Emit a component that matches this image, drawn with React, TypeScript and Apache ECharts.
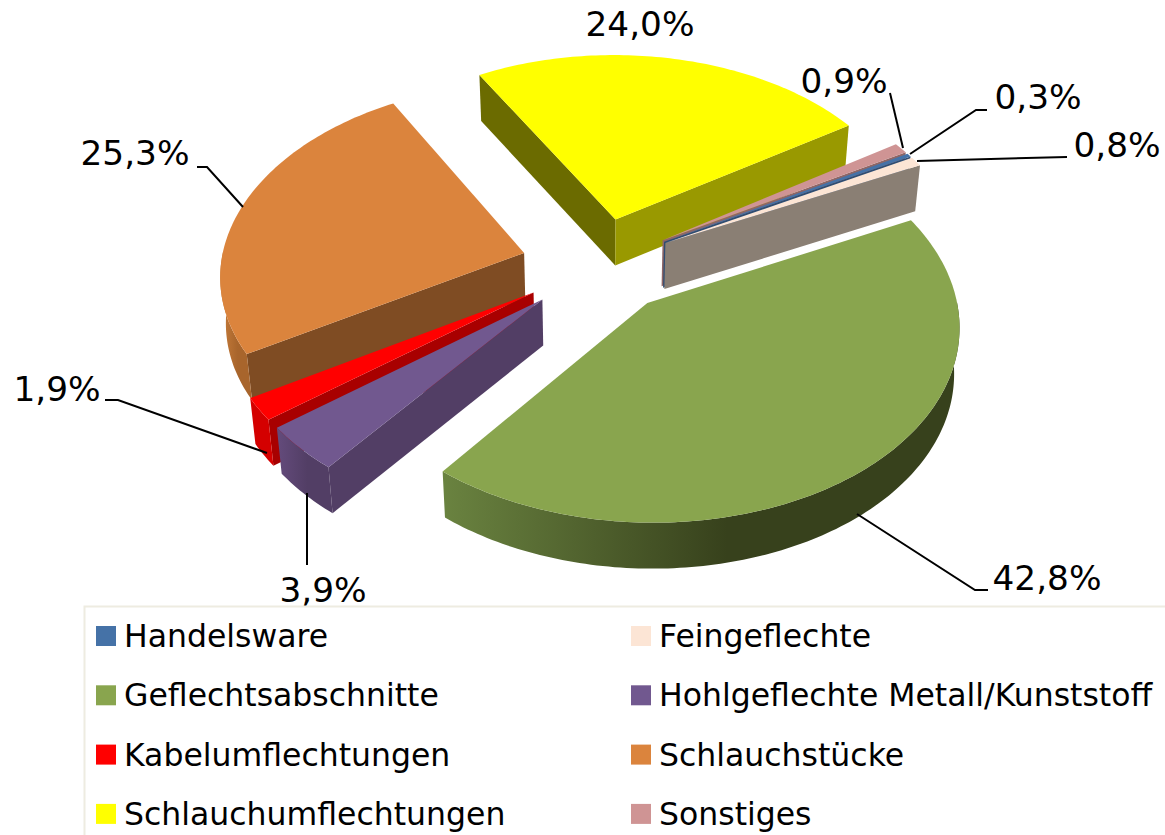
import React, { useEffect, useRef } from "react";
import * as echarts from "echarts";

const categories = ["Handelsware", "Feingeflechte", "Geflechtsabschnitte", "Hohlgeflechte Metall/Kunststoff", "Kabelumflechtungen", "Schlauchstücke", "Schlauchumflechtungen", "Sonstiges"];
const shares = [0.3, 0.8, 42.8, 3.9, 1.9, 25.3, 24.0, 0.9];
const topColors = ["#4572a7", "#fce5d5", "#89a54e", "#71588f", "#ff0000", "#db843d", "#ffff00", "#cf9494"];
const wallStartColors = ["#2f4d72", "#8a7f74", "#5c7034", "#523e65", "#a80000", "#7f4c23", "#6b6b00", "#8f6666"];
const wallEndColors = ["#2f4d72", "#8a7f74", "#5c7034", "#523e65", "#a80000", "#7f4c23", "#999900", "#8f6666"];
const arcColorsA = ["#2f4d72", "#8a7f74", "#6a8340", "#644b7c", "#d40000", "#c87d3b", "#999900", "#8f6666"];
const arcColorsB = ["#2f4d72", "#8a7f74", "#37411c", "#523e65", "#d40000", "#a8652c", "#999900", "#8f6666"];

const leftLegend = [categories[0], categories[2], categories[4], categories[6]];
const rightLegend = [categories[1], categories[3], categories[5], categories[7]];

// label centre x, y per category; leader polyline per category
const labelAt = [[1038, 97], [1117, 145], [1047, 578], [323, 590], [57, 389], [135, 153], [640, 24], [844, 81]];
const leaders = [
  [[987, 110], [976, 110], [910, 154]],
  [[1067, 157], [917, 161]],
  [[857, 514], [975, 590], [988, 590]],
  [[307, 493], [307, 565]],
  [[105, 400], [118, 400], [267, 453]],
  [[197, 167], [207, 167], [243, 207]],
  [],
  [[890, 93], [903, 148]],
];

const CX = 598, CY = 265, R = 296, EXPLODE = 75, K = 0.64, PX = 0.105, PY = 0.1, SX = 1.025, DEPTH = 46, SHRINK = 0.015;
const START = -30;

const rad = (d: number) => (d * Math.PI) / 180;
function project(X: number, Y: number, low: boolean): number[] {
  const x = (SX * X) / (1 - (PX * Y) / R);
  const y = (K * Y) / (1 - (PY * Y) / R);
  return low ? [CX + x * (1 - SHRINK), CY + y + DEPTH] : [CX + x, CY + y];
}

const total = shares.reduce((a, b) => a + b, 0);
let running = START;
const spans = shares.map((v) => {
  const a0 = running;
  running += (v / total) * 360;
  return [a0, running];
});

function makeRenderItem(i: number) {
  return () => {
    const [a0, a1] = spans[i];
    const mid = rad((a0 + a1) / 2);
    const ax = EXPLODE * Math.cos(mid), ay = EXPLODE * Math.sin(mid);
    const rim: number[][] = [];
    const n = Math.max(2, Math.ceil(a1 - a0));
    for (let j = 0; j <= n; j++) {
      const t = rad(a0 + ((a1 - a0) * j) / n);
      rim.push([ax + R * Math.cos(t), ay + R * Math.sin(t), t]);
    }
    const children: any[] = [];
    const radial = (p: number[], fill: string) => ({
      type: "polygon",
      shape: { points: [project(ax, ay, false), project(p[0], p[1], false), project(p[0], p[1], true), project(ax, ay, true)] },
      style: { fill },
    });
    if (Math.sin(rad(a0 - 90)) > 0) children.push(radial(rim[0], wallStartColors[i]));
    if (Math.sin(rad(a1 + 90)) > 0) children.push(radial(rim[rim.length - 1], wallEndColors[i]));
    const front = rim.filter((p) => Math.sin(p[2]) > -0.02);
    if (front.length > 1) {
      const up = front.map((p) => project(p[0], p[1], false));
      const low = front.map((p) => project(p[0], p[1], true)).reverse();
      children.push({
        type: "polygon",
        shape: { points: up.concat(low) },
        style: {
          fill: new echarts.graphic.LinearGradient(0, 0, 1, 0, [
            { offset: 0, color: arcColorsA[i] },
            { offset: 0.55, color: arcColorsB[i] },
            { offset: 1, color: arcColorsB[i] },
          ]),
        },
      });
    }
    children.push({
      type: "polygon",
      shape: { points: [project(ax, ay, false)].concat(rim.map((p) => project(p[0], p[1], false))) },
      style: { fill: topColors[i] },
    });
    return { type: "group", children };
  };
}

const rank = categories
  .map((_, i) => i)
  .sort((a, b) => Math.sin(rad((spans[a][0] + spans[a][1]) / 2)) - Math.sin(rad((spans[b][0] + spans[b][1]) / 2)));

const FONT = "'DejaVu Sans'";

export default function App() {
  const ref = useRef<HTMLDivElement>(null);
  useEffect(() => {
    document.body.style.margin = "0";
    const chart = echarts.init(ref.current!, null, { renderer: "svg" });
    const legendBase = {
      orient: "vertical",
      top: 620,
      height: 214,
      padding: 0,
      icon: "rect",
      itemWidth: 20,
      itemHeight: 20,
      itemGap: 27.3,
      z: 20,
      selectedMode: false,
      textStyle: { fontFamily: FONT, fontSize: 31.5, lineHeight: 20, color: "#000", padding: [0, 0, 0, 3] },
    };
    chart.setOption({
      animation: false,
      backgroundColor: "#fff",
      legend: [
        { ...legendBase, left: 96, data: leftLegend },
        { ...legendBase, left: 631, data: rightLegend },
      ],
      series: categories.map((name, i) => ({
        type: "custom",
        name,
        coordinateSystem: "none",
        z: 2 + rank.indexOf(i),
        itemStyle: { color: topColors[i] },
        silent: true,
        data: [shares[i]],
        renderItem: makeRenderItem(i),
      })),
      graphic: [
        ...leaders
          .filter((l) => l.length > 0)
          .map((points) => ({
            type: "polyline",
            z: 12,
            shape: { points },
            style: { stroke: "#000", lineWidth: 2, fill: "none" },
          })),
        ...shares.map((v, i) => ({
          type: "text",
          z: 13,
          x: labelAt[i][0],
          y: labelAt[i][1],
          style: {
            text: v.toFixed(1).replace(".", ",") + "%",
            font: `34.3px ${FONT}`,
            fill: "#000",
            align: "center",
            verticalAlign: "middle",
          },
        })),
        {
          type: "rect",
          z: 14,
          shape: { x: 84.5, y: 606.5, width: 1100, height: 300 },
          style: { fill: "#fff", stroke: "#eeece1", lineWidth: 2 },
        },
      ],
    });
    return () => chart.dispose();
  }, []);
  return <div ref={ref} style={{ position: "absolute", left: 0, top: 0, width: 1165, height: 835 }} />;
}
